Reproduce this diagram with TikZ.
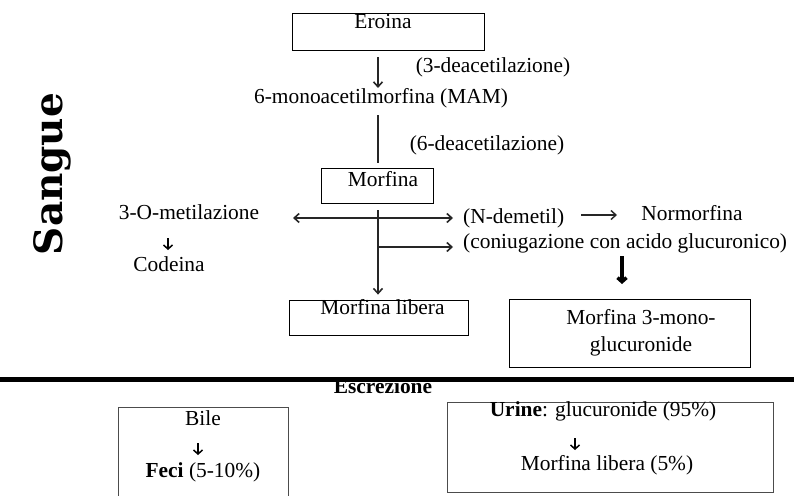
\documentclass[tikz,border=0pt]{standalone}
\usepackage{fontspec}
\setmainfont{Liberation Serif}
\newfontfamily\slabfont{DejaVu Serif}
\usetikzlibrary{arrows.meta, positioning}
\tikzset{
  % Metabolite boxes (text drawn separately at the top)
  metabox/.style={rectangle, draw=black, line width=0.8pt, inner sep=0pt},
  outbox/.style={rectangle, draw=black!70, line width=0.9pt, inner sep=0pt},
  metatext/.style={font=\fontsize{21.4}{27}\selectfont, inner sep=0pt, align=center},
  % Arrows
  metaarrow/.style={-{Straight Barb[length=5pt, width=9pt]}, line width=1.6pt, color=black!85},
  twoarrow/.style={{Straight Barb[length=5pt, width=9pt]}-{Straight Barb[length=5pt, width=9pt]}, line width=1.6pt, color=black!85},
  metaline/.style={line width=1.6pt, color=black!85},
  bigarrow/.style={-{Straight Barb[length=4pt, width=9pt]}, line width=3.5pt},
  tinyarrow/.style={-{Straight Barb[length=4pt, width=9pt]}, line width=1.5pt}
}

\begin{document}
\begin{tikzpicture}[x=1pt, y=-1pt]
  \clip (0,0) rectangle (794,495);

  % Compartment label
  \node[rotate=90, font=\slabfont\bfseries\fontsize{39}{39}\selectfont, inner sep=0pt] (sangue) at (52,174) {Sangue};

  % Eroina
  \node[metabox, minimum width=192pt, minimum height=37pt] (eroina) at (388,31.5) {};
  \node[metatext] (eroinatxt) at (383,22) {Eroina};
  \node[metatext] (deac3) at (493,67) {(3-deacetilazione)};

  % 6-monoacetilmorfina
  \node[metatext] (mam) at (381,98) {6-monoacetilmorfina (MAM)};
  \node[metatext] (deac6) at (487,145) {(6-deacetilazione)};

  % Morfina
  \node[metabox, minimum width=112pt, minimum height=35pt] (morfina) at (377,185.5) {};
  \node[metatext] (morfinatxt) at (383,179) {Morfina};

  % Vie metaboliche
  \node[metatext] (metil) at (189,212) {3-O-metilazione};
  \node[metatext] (codeina) at (169,264) {Codeina};
  \node[metatext, anchor=west] (ndem) at (463,218) {(N-demetil)};
  \node[metatext] (normorfina) at (692,213) {Normorfina};
  \node[metatext, anchor=west] (coniug) at (463,243) {(coniugazione con acido glucuronico)};

  % Morfina libera
  \node[metabox, minimum width=179pt, minimum height=35pt] (libera) at (378.5,317.5) {};
  \node[metatext] (liberatxt) at (382.5,307) {Morfina libera};

  % Morfina 3-mono-glucuronide
  \node[metabox, minimum width=241pt, minimum height=68pt] (gluc) at (629.5,333) {};
  \node[metatext] (gluctxt) at (641,333) {Morfina 3-mono-\\glucuronide};

  % Escrezione
  \node[metatext, font=\bfseries\fontsize{21.4}{27}\selectfont, anchor=base] (escr) at (383,393) {Escrezione};
  \coordinate (sepl) at (0,379.5);
  \coordinate (sepr) at (794,379.5);
  \draw[line width=5pt] (sepl) -- (sepr);

  \node[outbox, minimum width=170pt, minimum height=100pt] (bile) at (203,457) {};
  \node[metatext] (biletxt) at (203,418) {Bile};
  \node[metatext] (feci) at (203,472) {\textbf{Feci} (5-10\%)};

  \node[outbox, minimum width=326pt, minimum height=90pt] (urine) at (610,447) {};
  \node[metatext] (urinetxt) at (603,411) {\textbf{Urine}: glucuronide (95\%)};
  \node[metatext] (urlib) at (607,465) {Morfina libera (5\%)};

  % Connectors
  \coordinate (e1) at (378,57);
  \draw[metaarrow] (e1) -- (e1 |- mam.north);
  \coordinate (m1) at (378,115);
  \draw[metaline, shorten >=5pt] (m1) -- (m1 |- morfina.north);
  \coordinate (splitl) at (293,218);
  \coordinate (splitr) at (453,218);
  \draw[twoarrow] (splitl) -- (splitr);
  \coordinate (m2) at (378,210);
  \draw[metaarrow, shorten >=5pt] (m2) -- (m2 |- libera.north);
  \coordinate (branch) at (378,247);
  \draw[metaarrow] (branch) -- (branch -| splitr);
  \coordinate (n1) at (581,215);
  \coordinate (n2) at (617,215);
  \draw[metaarrow, line width=1.4pt] (n1) -- (n2);
  \coordinate (g1) at (622,256);
  \coordinate (g2) at (622,284);
  \draw[bigarrow] (g1) -- (g2);
  \coordinate (c1) at (168,238);
  \draw[tinyarrow] (c1) -- ++(0,12);
  \coordinate (b1) at (198,443);
  \draw[tinyarrow] (b1) -- ++(0,12);
  \coordinate (u1) at (575,438);
  \draw[tinyarrow] (u1) -- ++(0,12);
\end{tikzpicture}
\end{document}
